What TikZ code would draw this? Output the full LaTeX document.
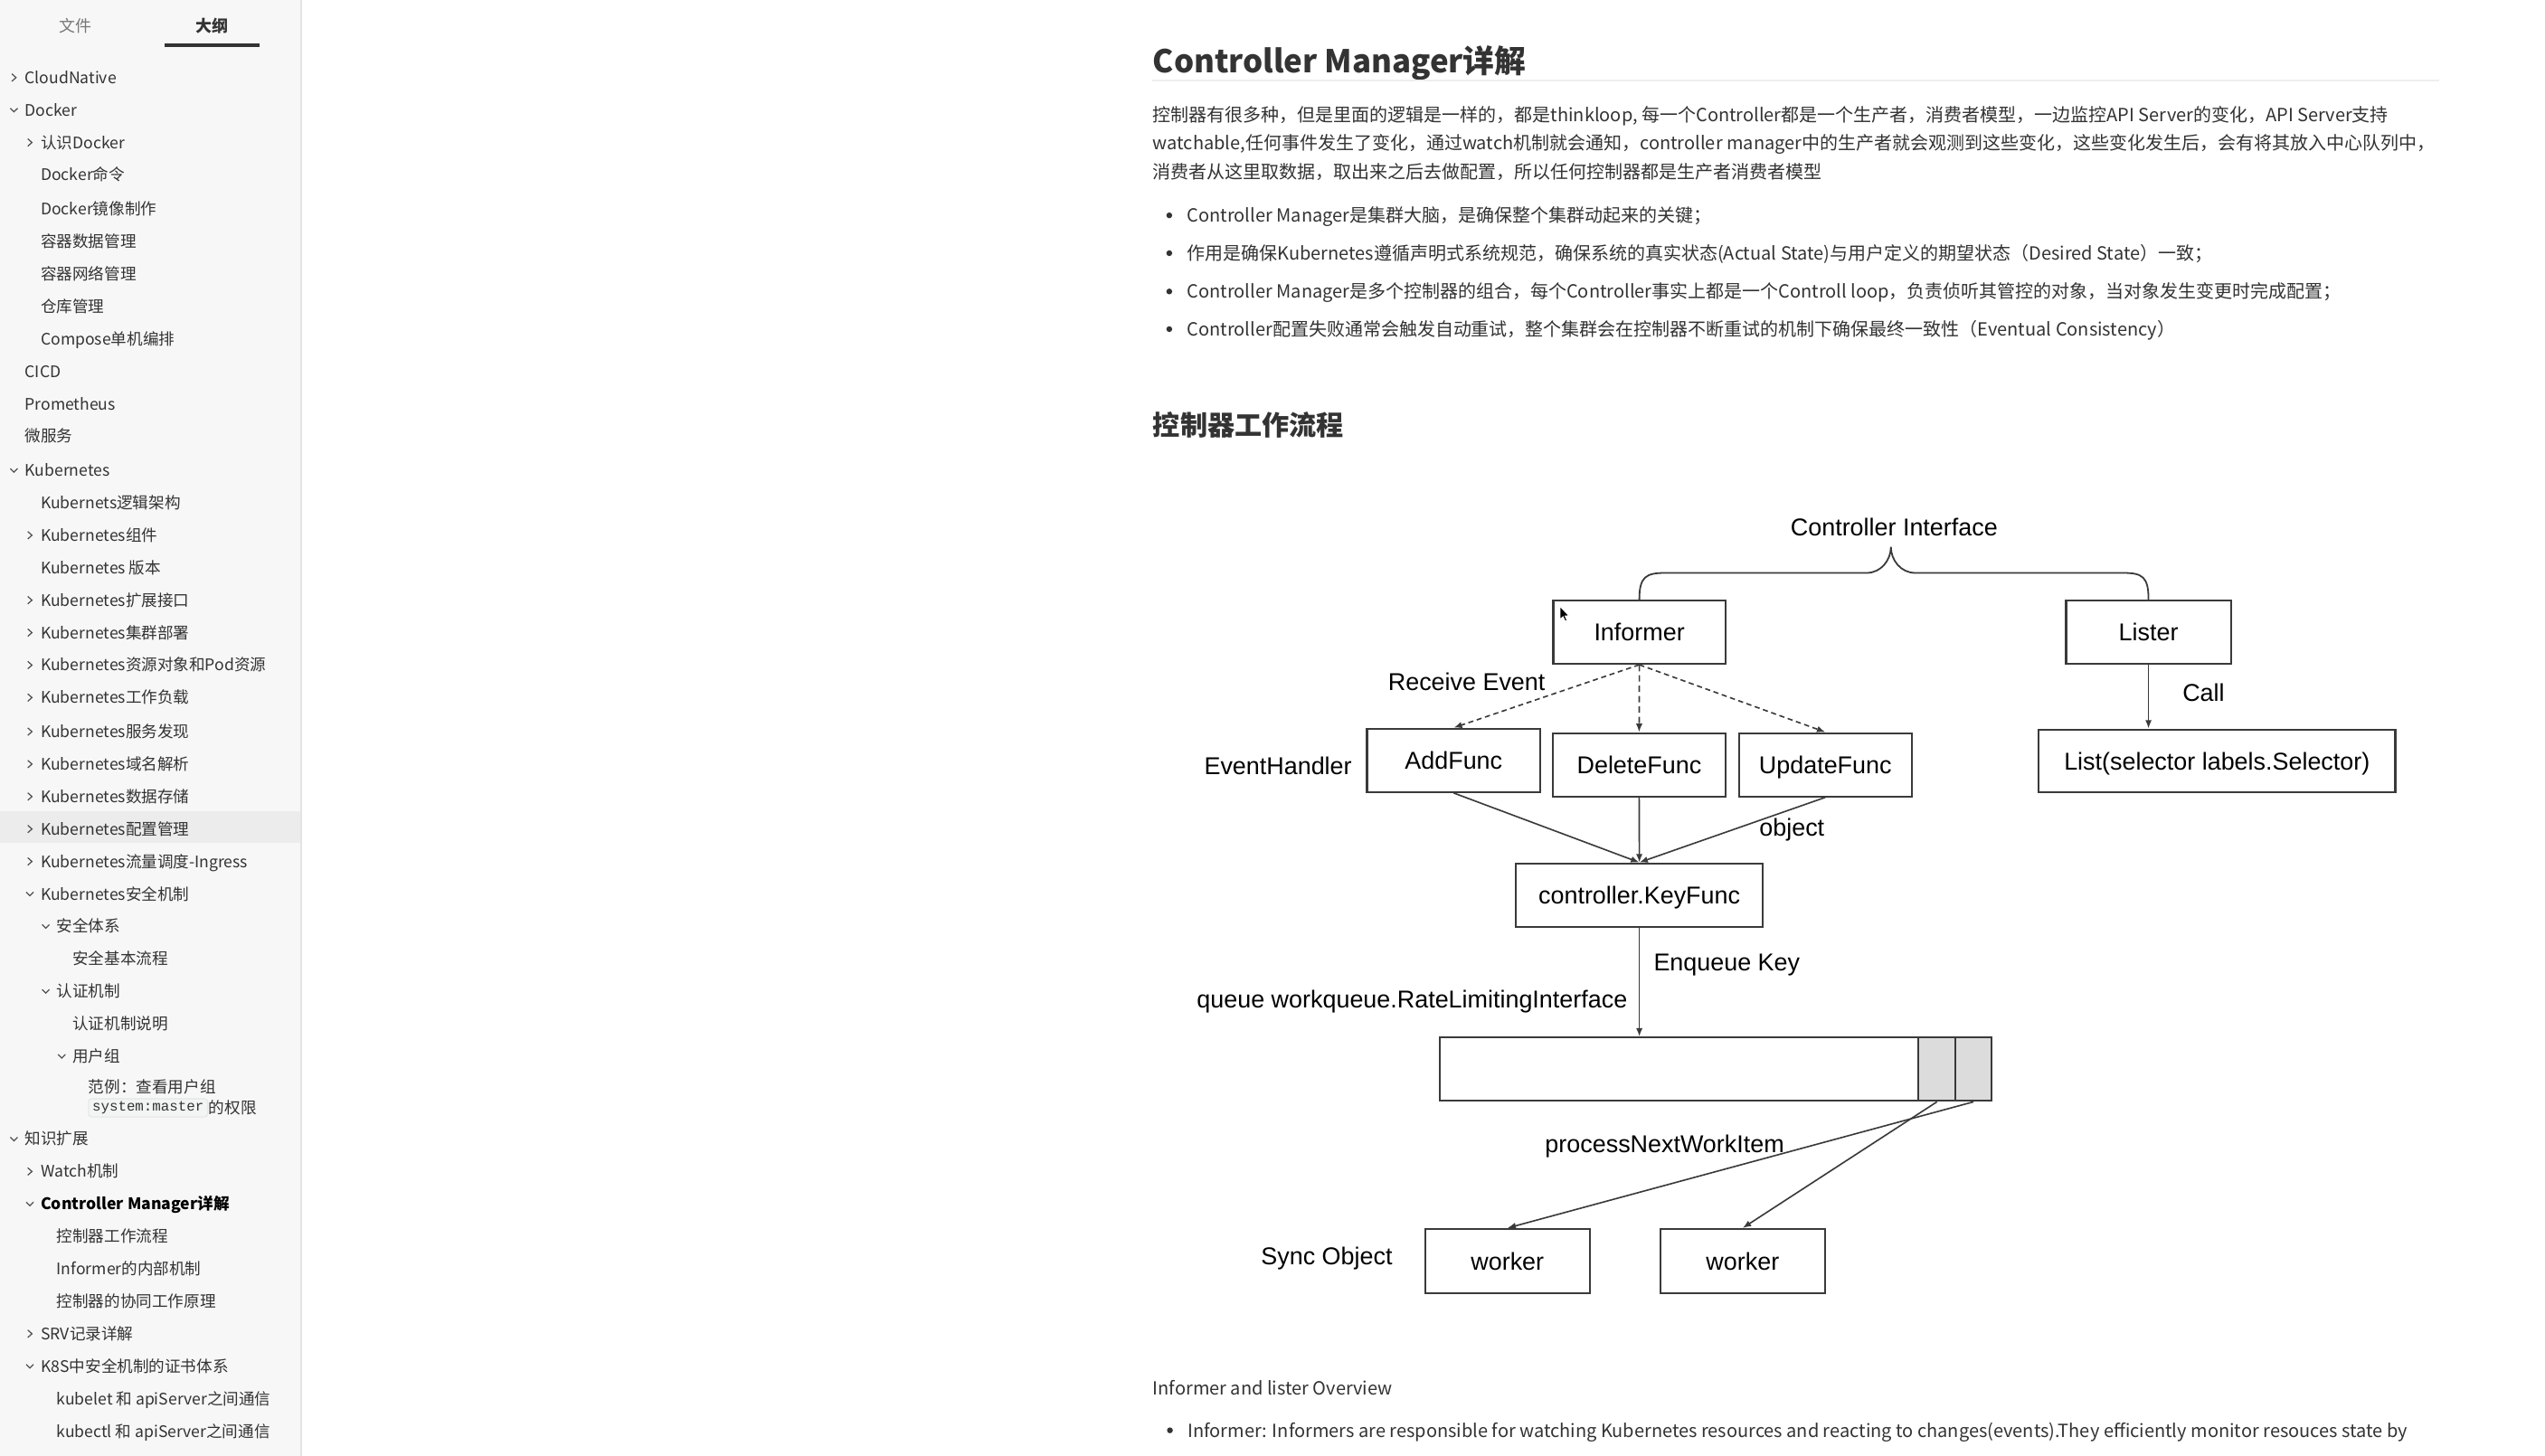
\documentclass[tikz,border=0pt]{standalone}
\usepackage{fontspec}
\setmainfont{Noto Sans CJK SC}
\newfontfamily\diafont{Liberation Sans}
\newfontfamily\codefont{Liberation Mono}
\usepackage{xcolor}
\usetikzlibrary{arrows.meta,positioning}
\definecolor{ink}{HTML}{333333}
\definecolor{sidebg}{HTML}{F7F7F7}
\definecolor{sideline}{HTML}{E4E4E4}
\definecolor{hlrow}{HTML}{ECECEC}
\definecolor{tabgray}{HTML}{777777}
\definecolor{rulegray}{HTML}{EEEEEE}
\definecolor{boxline}{HTML}{3A3A3A}
\definecolor{cellgray}{HTML}{DCDCDC}
\definecolor{codebg}{HTML}{F3F4F4}
\definecolor{codeline}{HTML}{E4E6E8}
\newcommand\sbsize{\fontsize{4.9pt}{6pt}\selectfont}
\newcommand\bodysize{\fontsize{5.57pt}{7pt}\selectfont}
\newcommand\diasize{\diafont\fontsize{7.5pt}{9pt}\selectfont}

\begin{document}
\begin{tikzpicture}[x=0.5pt, y=-0.5pt,
  sbitem/.style={anchor=west, inner sep=0pt, text=ink, font=\sbsize, text height=3.63pt, text depth=0pt},
  bodytext/.style={anchor=west, inner sep=0pt, text=ink, font=\bodysize, text height=4.12pt, text depth=0pt},
  chev/.style={draw=ink!85, line width=0.35pt},
  box/.style={draw=boxline, line width=0.6pt, inner sep=0pt, font=\diasize, text height=5.4pt, text depth=0pt, minimum height=19.5pt},
  lbl/.style={inner sep=0pt, font=\diasize, text height=5.4pt, text depth=0pt},
  flow/.style={draw=boxline, line width=0.45pt, -{Latex[length=2.6pt,width=2pt]}},
  dflow/.style={flow, dash pattern=on 1.6pt off 1.1pt}]
\useasboundingbox[fill=white] (0,0) rectangle (1568,897);

\fill[sidebg] (0,0) rectangle (185.5,897);
\fill[hlrow] (0,500) rectangle (185.5,519.6);
\draw[sideline, line width=0.5pt] (185.5,0) -- (185.5,897);
\node[font=\fontsize{5pt}{6pt}\selectfont, text=tabgray] (tabfile) at (46.6,16) {文件};
\node[font=\fontsize{5pt}{6pt}\selectfont\bfseries, text=ink] (taboutline) at (130.5,16.2) {大纲};
\fill[ink] (101.4,26.8) rectangle (160,29);

\foreach \lv/\cv/\yy/\nm [count=\i] in {0/1/47/CloudNative, 0/2/67/Docker, 1/1/87/认识Docker, 1/0/107/Docker命令,
    1/0/128/Docker镜像制作, 1/0/148/容器数据管理, 1/0/168/容器网络管理, 1/0/188/仓库管理, 1/0/208/Compose单机编排,
    0/0/228/CICD, 0/0/248/Prometheus, 0/0/268/微服务, 0/2/289/Kubernetes, 1/0/309/Kubernets逻辑架构,
    1/1/329/Kubernetes组件, 1/0/349/Kubernetes 版本, 1/1/369/Kubernetes扩展接口, 1/1/389/Kubernetes集群部署,
    1/1/409/Kubernetes资源对象和Pod资源, 1/1/429/Kubernetes工作负载, 1/1/450/Kubernetes服务发现,
    1/1/470/Kubernetes域名解析, 1/1/490/Kubernetes数据存储, 1/1/510/Kubernetes配置管理,
    1/1/530/Kubernetes流量调度-Ingress, 1/2/550/Kubernetes安全机制, 2/2/570/安全体系, 3/0/590/安全基本流程,
    2/2/610/认证机制, 3/0/630/认证机制说明, 3/2/650/用户组, 4/0/669/范例：查看用户组, 0/2/701/知识扩展,
    1/1/721/Watch机制, 1/2/741/{\bfseries\color{black}Controller Manager详解}, 2/0/761/控制器工作流程,
    2/0/781/Informer的内部机制, 2/0/801/控制器的协同工作原理, 1/1/821/SRV记录详解,
    1/2/841/K8S中安全机制的证书体系, 2/0/861/kubelet 和 apiServer之间通信, 2/0/881/kubectl 和 apiServer之间通信}{
  \node[sbitem] (sb\i) at ({15+9.8*\lv},\yy+0.8) {\nm};
  \ifcase\cv\or
    \draw[chev] ({8.6+9.8*\lv-1.3},\yy-1.5) -- ++(2.6,2.3) -- ++(-2.6,2.3);
  \or
    \draw[chev] ({8.6+9.8*\lv-2.25},\yy-0.3) -- ++(2.25,2.2) -- ++(2.25,-2.2);
  \fi
}
\node[anchor=west, fill=codebg, draw=codeline, line width=0.3pt, rounded corners=1pt, inner xsep=1.2pt, inner ysep=0.8pt,
  font=\codefont\fontsize{4.4pt}{5pt}\selectfont, text=ink, text height=3.1pt, text depth=0.9pt] (sbcode) at (54.2,682.6) {system:master};
\node[sbitem, right=0pt of sbcode] (sbperm) {的权限};

\node[anchor=west, inner sep=0pt, text=ink, font=\fontsize{9.7pt}{12pt}\selectfont\bfseries, text height=7.1pt, text depth=0pt] (title) at (710,38) {Controller Manager详解};
\draw[rulegray, line width=0.6pt] (710,49.8) -- (1503,49.8);
\node[bodytext] (para1) at (710,70.6) {控制器有很多种，但是里面的逻辑是一样的，都是thinkloop, 每一个Controller都是一个生产者，消费者模型，一边监控API Server的变化，API Server支持};
\node[bodytext] (para2) at (710,88.2) {watchable,任何事件发生了变化，通过watch机制就会通知，controller manager中的生产者就会观测到这些变化，这些变化发生后，会有将其放入中心队列中，};
\node[bodytext] (para3) at (710,105.9) {消费者从这里取数据，取出来之后去做配置，所以任何控制器都是生产者消费者模型};
\foreach \yy/\nm [count=\i] in {132.7/Controller Manager是集群大脑，是确保整个集群动起来的关键；,
    156/作用是确保Kubernetes遵循声明式系统规范，确保系统的真实状态(Actual State)与用户定义的期望状态（Desired State）一致；,
    179.6/Controller Manager是多个控制器的组合，每个Controller事实上都是一个Controll loop，负责侦听其管控的对象，当对象发生变更时完成配置；,
    202.8/Controller配置失败通常会触发自动重试，整个集群会在控制器不断重试的机制下确保最终一致性（Eventual Consistency）}{
  \fill[ink] (720.4,\yy) circle[radius=1.8];
  \node[bodytext] (bul\i) at (731,\yy) {\nm};
}
\node[anchor=west, inner sep=0pt, text=ink, font=\fontsize{8.4pt}{10pt}\selectfont\bfseries, text height=6.2pt, text depth=0pt] (flowtitle) at (710,262) {控制器工作流程};

\node[lbl] (ctrlif) at (1167,325) {Controller Interface};
\node[box, minimum width=53pt] (informer) at (1010,389.5) {Informer};
\node[box, minimum width=50.75pt] (lister) at (1323.7,389.5) {Lister};
\node[box, minimum width=53.35pt] (addf) at (895.6,468.5) {AddFunc};
\node[box, minimum width=53.35pt] (delf) at (1009.9,471.2) {DeleteFunc};
\node[box, minimum width=53.3pt] (updf) at (1124.6,471.2) {UpdateFunc};
\node[box, minimum width=109.9pt, minimum height=19.3pt] (listf) at (1365.9,468.8) {List(selector labels.Selector)};
\node[box, minimum width=76pt] (keyf) at (1010,551.5) {controller.KeyFunc};
\node[box, minimum width=147.5pt] (queue) at (1034.5,658.8) {};
\node[box, fill=cellgray, minimum width=11.35pt] (qa) at (1193.35,658.8) {};
\node[box, fill=cellgray, minimum width=11.15pt] (qb) at (1215.85,658.8) {};
\node[box, minimum width=50.75pt, minimum height=19.75pt] (wka) at (928.75,777) {worker};
\node[box, minimum width=50.85pt, minimum height=19.75pt] (wkb) at (1073.65,777) {worker};

\node[lbl] (recv) at (903.6,419.8) {Receive Event};
\node[lbl] (evh) at (787.4,471.8) {EventHandler};
\node[lbl] (obj) at (1104,510) {object};
\node[lbl] (call) at (1357.6,426.8) {Call};
\node[lbl] (enq) at (1063.9,593) {Enqueue Key};
\node[lbl, anchor=east] (qname) at (1003,615.5) {queue workqueue.RateLimitingInterface};
\node[lbl] (pnwi) at (1025.6,705) {processNextWorkItem};
\node[lbl] (sync) at (817.4,774) {Sync Object};

\draw[boxline, line width=0.5pt] (informer.north) .. controls +(0,-14) and +(-12,0) .. (1026,353) -- (1150,353)
  .. controls +(9,0) and +(0,8) .. (1165,337) .. controls +(0,8) and +(-9,0) .. (1180,353) -- (1308,353)
  .. controls +(12,0) and +(0,-14) .. (lister.north);
\draw[dflow] (informer.south) -- (addf.north);
\draw[dflow, dash pattern=on 2pt off 1.2pt] (informer.south) -- (delf.north);
\draw[dflow] (informer.south) -- (updf.north);
\draw[flow] (lister.south) -- (lister.south |- listf.north);
\draw[flow] (addf.south) -- (keyf.north);
\draw[flow] (delf.south) -- (keyf.north);
\draw[flow] (updf.south) -- (keyf.north);
\draw[flow] (keyf.south) -- (keyf.south |- queue.north);
\draw[flow] (qa.south) -- (wkb.north);
\draw[flow] (qb.south) -- (wka.north);
\filldraw[fill=black, draw=white, line width=0.2pt] (961.2,373.7) -- (961.2,381.6) -- (963,379.9) -- (964.3,382.7)
  -- (965.4,382.2) -- (964.2,379.5) -- (966.5,379.4) -- cycle;

\node[bodytext] (overview) at (710,855.3) {Informer and lister Overview};
\fill[ink] (720.8,881.3) circle[radius=1.8];
\node[bodytext] (binf) at (731.4,881.3) {Informer: Informers are responsible for watching Kubernetes resources and reacting to changes(events).They efficiently monitor resouces state by};
\end{tikzpicture}
\end{document}
